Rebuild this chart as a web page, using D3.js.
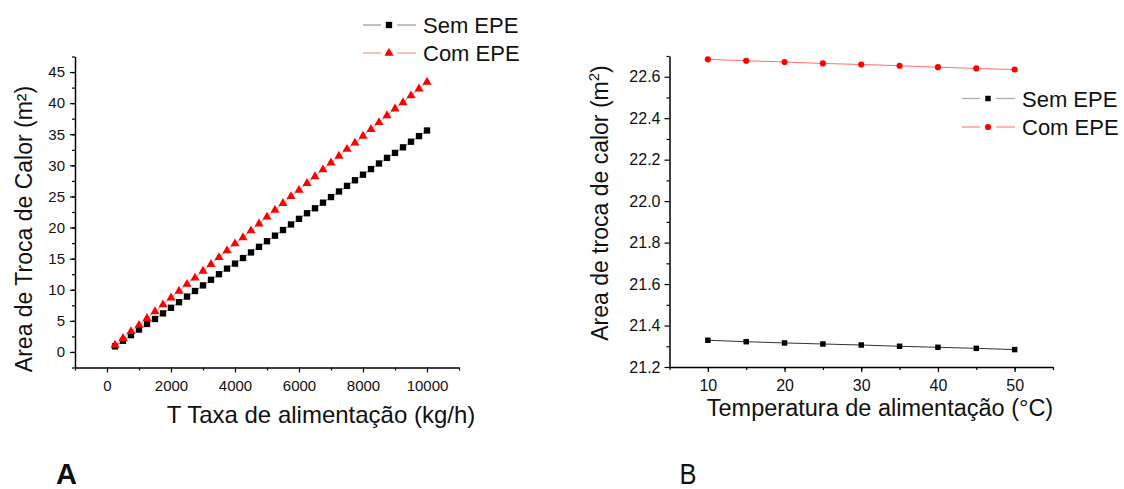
<!DOCTYPE html>
<html>
<head>
<meta charset="utf-8">
<script src="https://cdn.jsdelivr.net/npm/d3@7"></script>
<style>
  body { margin: 0; background: #fff; }
  text { font-family: Arial, "Liberation Sans", sans-serif; fill: #111; }
</style>
</head>
<body>
<div id="chart-area"></div>
<script>
// Panel A data: feed rate (kg/h) vs heat exchange area (m2)
const feedRates = [250, 500, 750, 1000, 1250, 1500, 1750, 2000, 2250, 2500,
    2750, 3000, 3250, 3500, 3750, 4000, 4250, 4500, 4750, 5000,
    5250, 5500, 5750, 6000, 6250, 6500, 6750, 7000, 7250, 7500,
    7750, 8000, 8250, 8500, 8750, 9000, 9250, 9500, 9750, 10000];
const areaSemA = [0.9, 1.8, 2.7, 3.6, 4.5, 5.3, 6.2, 7.1, 8.0, 8.9,
    9.8, 10.7, 11.6, 12.5, 13.4, 14.2, 15.1, 16.0, 16.9, 17.8,
    18.7, 19.6, 20.5, 21.4, 22.3, 23.1, 24.0, 24.9, 25.8, 26.7,
    27.6, 28.5, 29.4, 30.3, 31.2, 32.0, 32.9, 33.8, 34.7, 35.6];
const areaComA = [1.1, 2.2, 3.3, 4.3, 5.4, 6.5, 7.6, 8.7, 9.8, 10.9,
    11.9, 13.0, 14.1, 15.2, 16.3, 17.4, 18.4, 19.5, 20.6, 21.7,
    22.8, 23.9, 25.0, 26.0, 27.1, 28.2, 29.3, 30.4, 31.5, 32.6,
    33.6, 34.7, 35.8, 36.9, 38.0, 39.1, 40.1, 41.2, 42.3, 43.4];
const xTicksA = [0, 2000, 4000, 6000, 8000, 10000];
const yTicksA = [0, 5, 10, 15, 20, 25, 30, 35, 40, 45];

// Panel B data: feed temperature (C) vs heat exchange area (m2)
const feedTemps = [10, 15, 20, 25, 30, 35, 40, 45, 50];
const areaSemB = [21.329, 21.322, 21.316, 21.311, 21.306, 21.300, 21.295, 21.290, 21.284];
const areaComB = [22.684, 22.677, 22.671, 22.664, 22.659, 22.653, 22.646, 22.640, 22.635];
const xTicksB = [10, 20, 30, 40, 50];
const yTicksB = [21.2, 21.4, 21.6, 21.8, 22.0, 22.2, 22.4, 22.6];

const seriesNames = ['Sem EPE', 'Com EPE'];

const svg = d3.select('#chart-area')
    .append('svg')
    .attr('width', 1124)
    .attr('height', 489);

function drawPanel(cfg) {
    const g = svg.append('g');

    const x = d3.scaleLinear().domain(cfg.xDomain).range(cfg.xRange);
    const y = d3.scaleLinear().domain(cfg.yDomain).range(cfg.yRange);

    // Minor ticks
    g.append('g')
        .attr('transform', 'translate(0, ' + cfg.yRange[0] + ')')
        .call(d3.axisBottom(x).tickValues(cfg.xMinor).tickSize(3).tickSizeOuter(0).tickFormat(''))
        .call((a) => a.select('.domain').remove());
    g.append('g')
        .attr('transform', 'translate(' + cfg.xRange[0] + ', 0)')
        .call(d3.axisLeft(y).tickValues(cfg.yMinor).tickSize(3).tickSizeOuter(0).tickFormat(''))
        .call((a) => a.select('.domain').remove());

    // X Axis
    const xAxis = g.append('g')
        .attr('transform', 'translate(0, ' + cfg.yRange[0] + ')')
        .call(d3.axisBottom(x).tickValues(cfg.xTicks).tickSize(5).tickSizeOuter(0)
            .tickPadding(8).tickFormat(d3.format('d')));
    xAxis.selectAll('text').attr('font-size', cfg.tickFont + 'px').attr('fill', '#1a1a1a');

    // Y Axis
    const yAxis = g.append('g')
        .attr('transform', 'translate(' + cfg.xRange[0] + ', 0)')
        .call(d3.axisLeft(y).tickValues(cfg.yTicks).tickSize(5).tickSizeOuter(0)
            .tickPadding(cfg.yPad).tickFormat(cfg.yFormat));
    yAxis.selectAll('text').attr('font-size', cfg.tickFont + 'px').attr('fill', '#1a1a1a');

    g.selectAll('.domain').attr('stroke', '#000').attr('stroke-width', 1.5);
    g.selectAll('.tick line').attr('stroke', '#000').attr('stroke-width', 1.2);

    // Lines and markers
    cfg.series.forEach((s) => {
        const pts = cfg.xs.map((v, i) => [v, s.values[i]]);
        g.append('path')
            .datum(pts)
            .attr('fill', 'none')
            .attr('stroke', s.line)
            .attr('stroke-width', 1)
            .attr('d', d3.line().x((d) => x(d[0])).y((d) => y(d[1])));
        g.selectAll(null)
            .data(pts)
            .enter()
            .append('path')
            .attr('transform', (d) => 'translate(' + x(d[0]) + ',' + y(d[1]) + ')')
            .attr('d', d3.symbol().type(s.symbol).size(s.size))
            .attr('fill', s.color);
    });

    // Legend
    cfg.series.forEach((s, i) => {
        const ly = cfg.legend.y + i * cfg.legend.gap;
        const lx = cfg.legend.x;
        g.append('line')
            .attr('x1', lx).attr('x2', lx + 18).attr('y1', ly).attr('y2', ly)
            .attr('stroke', s.legendLine).attr('stroke-width', 1.2);
        g.append('line')
            .attr('x1', lx + 34).attr('x2', lx + 53).attr('y1', ly).attr('y2', ly)
            .attr('stroke', s.legendLine).attr('stroke-width', 1.2);
        g.append('path')
            .attr('transform', 'translate(' + (lx + 26) + ',' + ly + ')')
            .attr('d', d3.symbol().type(s.symbol).size(s.size))
            .attr('fill', s.color);
        g.append('text')
            .attr('x', lx + 60)
            .attr('y', ly + 8)
            .attr('font-size', '22px')
            .text(seriesNames[i]);
    });

    // X Label
    g.append('text')
        .attr('x', cfg.xLabel.x)
        .attr('y', cfg.xLabel.y)
        .attr('font-size', cfg.xLabel.size + 'px')
        .attr('text-anchor', 'middle')
        .text(cfg.xLabel.text);

    // Y Label
    const yl = g.append('text')
        .attr('transform', 'translate(' + cfg.yLabel.x + ',' + cfg.yLabel.y + ') rotate(-90)')
        .attr('font-size', '23px')
        .attr('text-anchor', 'middle');
    yl.append('tspan').text(cfg.yLabel.text);
    if (cfg.yLabel.sup) {
        yl.append('tspan').attr('font-size', '15px').attr('dy', -9).text(cfg.yLabel.sup);
        yl.append('tspan').attr('dy', 9).text(')');
    }

    // Panel letter
    g.append('text')
        .attr('x', cfg.letter.x)
        .attr('y', 484)
        .attr('font-size', '30px')
        .attr('font-weight', cfg.letter.bold ? 'bold' : 'normal')
        .attr('textLength', cfg.letter.w)
        .attr('lengthAdjust', 'spacingAndGlyphs')
        .text(cfg.letter.text);
}

drawPanel({
    xDomain: [-1000, 11000], xRange: [75, 459],
    yDomain: [-2.5, 47.5], yRange: [367.5, 56.5],
    xTicks: xTicksA, yTicks: yTicksA,
    xMinor: d3.range(-1000, 11001, 1000), yMinor: d3.range(-2.5, 47.6, 2.5),
    yFormat: d3.format('d'), yPad: 5, tickFont: 15,
    xs: feedRates,
    series: [
        { values: areaSemA, color: '#000', line: '#888', legendLine: '#999', symbol: d3.symbolSquare, size: 40 },
        { values: areaComA, color: '#f00', line: '#ff8080', legendLine: '#ff9090', symbol: d3.symbolTriangle, size: 36 }
    ],
    legend: { x: 363, y: 25, gap: 28 },
    xLabel: { x: 321, y: 423, size: 24, text: 'T Taxa de alimentação (kg/h)' },
    yLabel: { x: 32, y: 229, text: 'Area de Troca de Calor (m²)' },
    letter: { x: 56, w: 21, text: 'A', bold: true }
});

drawPanel({
    xDomain: [5, 55], xRange: [669.5, 1053],
    yDomain: [21.2, 22.7], yRange: [367, 56],
    xTicks: xTicksB, yTicks: yTicksB,
    xMinor: d3.range(5, 56, 5), yMinor: d3.range(21.3, 22.75, 0.2),
    yFormat: d3.format('.1f'), yPad: 4, tickFont: 16,
    xs: feedTemps,
    series: [
        { values: areaSemB, color: '#000', line: '#333', legendLine: '#aaa', symbol: d3.symbolSquare, size: 30 },
        { values: areaComB, color: '#f00', line: '#ff6f6f', legendLine: '#ff8080', symbol: d3.symbolCircle, size: 30 }
    ],
    legend: { x: 962, y: 98.5, gap: 28.5 },
    xLabel: { x: 880, y: 416, size: 23.5, text: 'Temperatura de alimentação (°C)' },
    yLabel: { x: 608, y: 203, text: 'Area de troca de calor (m', sup: '2' },
    letter: { x: 679.5, w: 17, text: 'B', bold: false }
});
</script>
</body>
</html>
